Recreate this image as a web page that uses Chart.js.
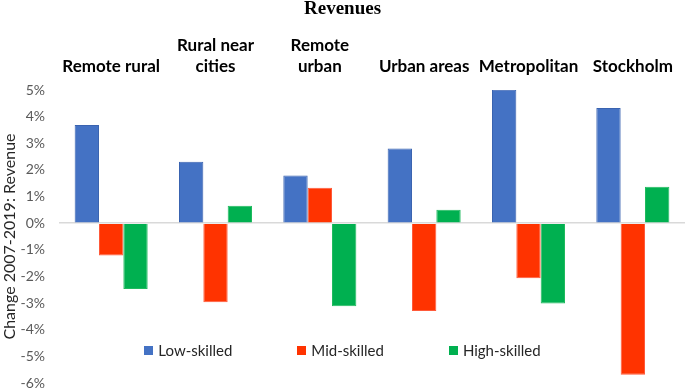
<!DOCTYPE html>
<html>
<head>
<meta charset="utf-8">
<title>Revenues</title>
<script src="https://cdn.jsdelivr.net/npm/chart.js@4.4.1/dist/chart.umd.min.js"></script>
<style>
    body { margin: 0; background: #fff; }
    #wrap { position: relative; width: 685px; height: 388px; }
    #legend {
        position: absolute; left: 0; top: 341px; width: 685px;
        display: flex; justify-content: center; gap: 65px;
        font-family: Lato, sans-serif; font-size: 15px; color: #262626;
    }
    #legend span.item { display: flex; align-items: center; }
    #legend span.box { width: 9px; height: 9px; margin-right: 5px; display: inline-block; }
</style>
</head>
<body>
<div id="wrap">
    <canvas id="revenueChart"></canvas>
    <div id="legend"></div>
</div>
<script>
// Region groups (multi-line labels as in the original header)
const categories = [
    ['Remote rural'],
    ['Rural near', 'cities'],
    ['Remote', 'urban'],
    ['Urban areas'],
    ['Metropolitan'],
    ['Stockholm']
];

const seriesNames = ['Low-skilled', 'Mid-skilled', 'High-skilled'];
const seriesColors = ['#4472C4', '#FF3300', '#00B050'];
const borderColors = ['#3A63B0', '#FF5A3A', '#1FBA5E'];

// Change 2007-2019 in revenue, percent
const lowSkilled = [3.69, 2.31, 1.79, 2.80, 5.01, 4.32];
const midSkilled = [-1.21, -2.97, 1.33, -3.30, -2.07, -5.69];
const highSkilled = [-2.47, 0.65, -3.12, 0.50, -3.02, 1.37];

const yTicks = [-6, -5, -4, -3, -2, -1, 0, 1, 2, 3, 4, 5];

const allSeries = [lowSkilled, midSkilled, highSkilled];

Chart.defaults.font.family = 'Lato, sans-serif';

const ctx = document.getElementById('revenueChart').getContext('2d');

const myChart = new Chart(ctx, {
    type: 'bar',
    data: {
        labels: categories,
        datasets: allSeries.map((values, i) => ({
            label: seriesNames[i],
            data: values,
            backgroundColor: seriesColors[i],
            borderColor: borderColors[i],
            borderWidth: 1,
            categoryPercentage: 0.7,
            barPercentage: 1.0
        }))
    },
    options: {
        responsive: true,
        maintainAspectRatio: false,
        animation: false,
        layout: { padding: { top: 0, bottom: 5, left: 0, right: 0 } },
        plugins: {
            legend: { display: false },
            tooltip: { enabled: false },
            title: {
                display: true,
                text: 'Revenues',
                color: '#000',
                font: { family: '"Liberation Serif", serif', size: 19, weight: 'bold', lineHeight: 1 },
                padding: { top: 0, bottom: 10.5 }
            }
        },
        scales: {
            x: {
                position: 'top',
                grid: { display: false },
                border: { display: false },
                ticks: {
                    color: '#000',
                    font: { size: 17, weight: 'bold', lineHeight: 1.25 },
                    padding: 5,
                    maxRotation: 0,
                    autoSkip: false
                }
            },
            y: {
                min: yTicks[0],
                max: yTicks[yTicks.length - 1],
                afterBuildTicks: (scale) => {
                    scale.ticks = yTicks.map(v => ({ value: v }));
                },
                afterFit: (scale) => {
                    // fixed axis width, no extra room above/below the plot
                    scale.width = 59;
                    scale.paddingTop = 0;
                    scale.paddingBottom = 0;
                },
                grid: {
                    drawTicks: false,
                    color: (c) => (c.tick && c.tick.value === 0 ? '#d9d9d9' : 'rgba(0,0,0,0)'),
                    lineWidth: 1.5
                },
                border: { display: false },
                ticks: {
                    color: '#595959',
                    font: { size: 14 },
                    padding: 14,
                    callback: (v) => v + '%'
                },
                title: {
                    display: true,
                    text: 'Change 2007-2019: Revenue',
                    color: '#262626',
                    font: { size: 16 },
                    padding: { top: 0, bottom: 0 }
                }
            }
        }
    }
});

// Legend sits inside the plot area, so it is built as html
function buildLegend() {
    const legendDiv = document.getElementById('legend');
    legendDiv.innerHTML = '';
    seriesNames.forEach((name, i) => {
        const item = document.createElement('span');
        item.className = 'item';
        item.innerHTML = `<span class="box" style="background:${seriesColors[i]}"></span>${name}`;
        legendDiv.appendChild(item);
    });
}

buildLegend();
</script>
</body>
</html>
